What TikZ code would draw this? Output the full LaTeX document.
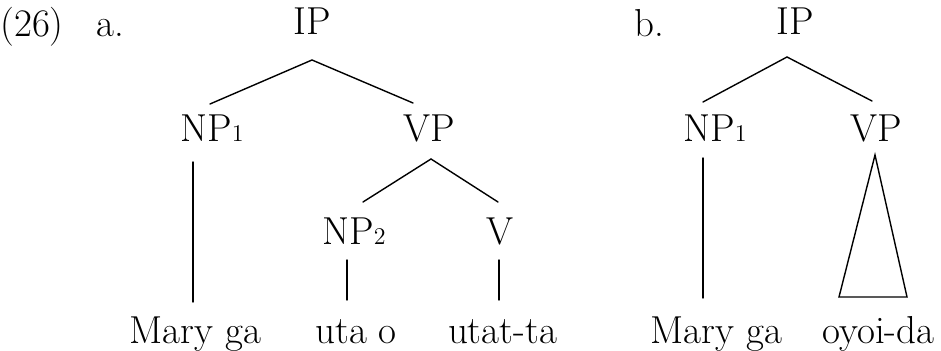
\documentclass[tikz,border=0pt]{standalone}
\begin{document}
\begin{tikzpicture}[x=0.5pt,y=-0.5pt,
  lbl/.style={inner sep=0pt,outer sep=0pt,anchor=base,font=\fontsize{19.5}{23}\selectfont},
  edge/.style={line width=0.7pt,line cap=round,line join=miter}]
\newcommand{\sbn}[1]{{\fontsize{12}{12}\selectfont #1}}
\useasboundingbox (0,0) rectangle (941,351);
% tree a
\node[lbl] (ex) at (32,37) {(26)};
\node[lbl] (la) at (110,37) {a.};
\node[lbl] (IPa) at (312,35) {IP};
\node[lbl] (NPa) at (212,142) {NP\sbn{1}};
\node[lbl] (VPa) at (429,142) {VP};
\node[lbl] (NPb) at (354,245) {NP\sbn{2}};
\node[lbl] (Va) at (500,245) {V};
\node[lbl] (MGa) at (195.5,344) {Mary ga};
\node[lbl] (uta) at (356,344) {uta o};
\node[lbl] (utat) at (502.5,344) {utat-ta};
\coordinate (IPa-d) at (312,60);
\coordinate (NPa-u) at (210,104);
\coordinate (VPa-u) at (413,103);
\coordinate (NPa-d) at (193,162);
\coordinate (MGa-u) at (193,302);
\coordinate (VPa-d) at (431,159);
\coordinate (NPb-u) at (363,202);
\coordinate (Va-u) at (498,202);
\coordinate (NPb-d) at (347,260);
\coordinate (uta-u) at (347,300);
\coordinate (Va-d) at (499,260);
\coordinate (utat-u) at (499,300);
\draw[edge] (NPa-u) -- (IPa-d) -- (VPa-u);
\draw[edge] (NPa-d) -- (MGa-u);
\draw[edge] (NPb-u) -- (VPa-d) -- (Va-u);
\draw[edge] (NPb-d) -- (uta-u);
\draw[edge] (Va-d) -- (utat-u);
% tree b
\node[lbl] (lb) at (649,37) {b.};
\node[lbl] (IPb) at (795,35) {IP};
\node[lbl] (NPc) at (715,142) {NP\sbn{1}};
\node[lbl] (VPb) at (876,142) {VP};
\node[lbl] (MGb) at (716.5,344) {Mary ga};
\node[lbl] (oyoi) at (878.5,344) {oyoi-da};
\coordinate (IPb-d) at (787,57);
\coordinate (NPc-u) at (703,102);
\coordinate (VPb-u) at (872,101);
\coordinate (NPc-d) at (703,158);
\coordinate (MGb-u) at (703,298);
\coordinate (VPb-d) at (875,155);
\coordinate (oyL) at (839,297);
\coordinate (oyR) at (907,297);
\draw[edge] (NPc-u) -- (IPb-d) -- (VPb-u);
\draw[edge] (NPc-d) -- (MGb-u);
\draw[edge] (VPb-d) -- (oyL) -- (oyR) -- cycle;
\end{tikzpicture}
\end{document}
